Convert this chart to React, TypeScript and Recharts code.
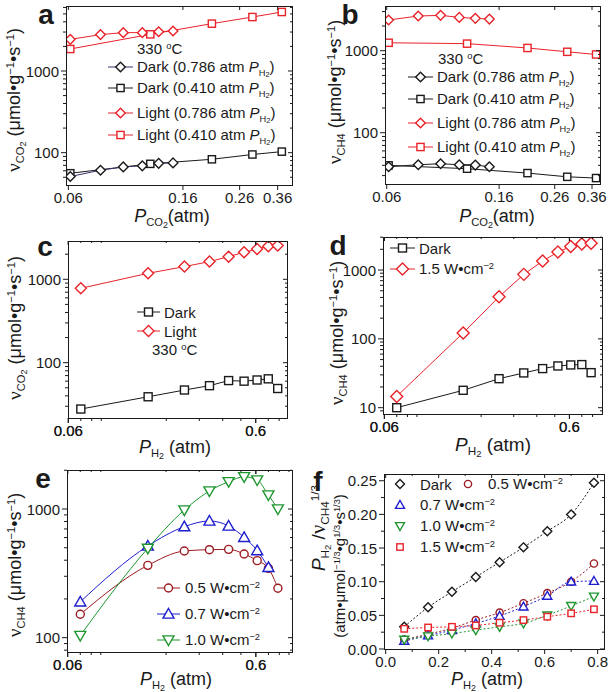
import { LineChart, Line, XAxis, YAxis } from 'recharts'

const W = 610
const H = 692
const INK = '#1a1a1a'
const RED = '#e8232a'
const NAVY = '#34346a'
const MAROON = '#9c1c22'
const BLUE = '#1d1dcf'
const GREEN = '#1f9630'
const FONT = '"Liberation Sans", Arial, Helvetica, sans-serif'
const SERIF = '"Liberation Serif", "Times New Roman", serif'

// P_CO2 sweeps (a, b): at 0.786 atm and 0.410 atm H2
const pco2Hi = [0.061, 0.079, 0.096, 0.113, 0.13, 0.147]
const pco2Lo = [0.061, 0.121, 0.205, 0.29, 0.373]

// a: CO2 consumption rate
const aDarkHi = [51, 61, 67, 69, 74, 75]
const aDarkLo = [56, 73, 83, 95, 103]
const aLightHi = [2440, 2790, 2950, 2950, 3030, 3090]
const aLightLo = [1860, 2810, 3800, 4580, 5280]

// b: CH4 formation rate
const bDarkHi = [38.5, 40.7, 41.9, 40.7, 40.3, 38.5]
const bDarkLo = [40, 36.4, 32.2, 29, 28]
const bLightHi = [2370, 2650, 2700, 2550, 2480, 2430]
const bLightLo = [1250, 1220, 1080, 970, 900]

// P_H2 sweep (c-f)
const ph2 = [0.07, 0.16, 0.25, 0.34, 0.43, 0.52, 0.61, 0.7, 0.786]
const ph2Short = [0.07, 0.16, 0.25, 0.34, 0.43, 0.52, 0.61, 0.7]

const cDark = [27.8, 39, 47, 53, 61, 60, 62, 64, 49]
const cLight = [780, 1180, 1420, 1630, 1870, 2110, 2310, 2490, 2540]

const dDark = [10, 17.9, 26.4, 32, 37, 40.4, 41.8, 42.3, 32.3]
const dLight = [14.6, 122, 409, 865, 1350, 1830, 2190, 2390, 2450]

const e05 = [152, 365, 472, 483, 486, 447, 397, 346, 242]
const e07 = [190, 516, 729, 807, 738, 602, 475, 352]
const e10 = [104, 495, 982, 1380, 1630, 1780, 1680, 1285, 1000]

const fDark = [0.033, 0.062, 0.085, 0.107, 0.129, 0.151, 0.175, 0.2, 0.247]
const f05 = [0.014, 0.022, 0.031, 0.043, 0.054, 0.068, 0.083, 0.1, 0.127]
const f07 = [0.012, 0.02, 0.028, 0.038, 0.049, 0.063, 0.079, 0.1, 0.101]
const f10 = [0.014, 0.019, 0.023, 0.028, 0.033, 0.038, 0.05, 0.064, 0.078]
const f15 = [0.03, 0.032, 0.033, 0.035, 0.039, 0.043, 0.048, 0.053, 0.059]

// tick values
const xTicksAB = [0.06, 0.16, 0.26, 0.36]
const xTicksCDE = [0.06, 0.6]
const yTicks2 = [100, 1000]
const yTicks3 = [10, 100, 1000]
const fxTicks = [0, 0.2, 0.4, 0.6, 0.8]
const fxMinor = [0.1, 0.3, 0.5, 0.7]
const fyTicks = [0, 0.05, 0.1, 0.15, 0.2, 0.25]
const fyMinor = [0.025, 0.075, 0.125, 0.175, 0.225]

const logMinor = (lo: number, hi: number) => {
  const out: number[] = []
  for (let e = Math.floor(Math.log10(lo)); e <= Math.ceil(Math.log10(hi)); e++) {
    for (let k = 2; k <= 9; k++) {
      const v = +(k * Math.pow(10, e)).toPrecision(6)
      if (v > lo && v < hi) out.push(v)
    }
  }
  return out
}

type Shape = 'diamond' | 'square' | 'circle' | 'up' | 'down'
type Series = {
  id: string
  xs: number[]
  ys: number[]
  color: string
  line?: string
  shape: Shape
  r: number
  curve?: 'linear' | 'monotone'
  dash?: string
}

function mark(shape: Shape, cx: number, cy: number, r: number, color: string) {
  const st = { fill: '#fff', stroke: color, strokeWidth: 1.4 }
  switch (shape) {
    case 'diamond':
      return <path {...st} d={`M${cx},${cy - r}L${cx + r},${cy}L${cx},${cy + r}L${cx - r},${cy}Z`} />
    case 'square':
      return <rect {...st} x={cx - r} y={cy - r} width={2 * r} height={2 * r} />
    case 'circle':
      return <circle {...st} cx={cx} cy={cy} r={r} />
    case 'up':
      return <path {...st} d={`M${cx},${cy - r}L${cx + r},${cy + r * 0.75}L${cx - r},${cy + r * 0.75}Z`} />
    default:
      return <path {...st} d={`M${cx},${cy + r}L${cx + r},${cy - r * 0.75}L${cx - r},${cy - r * 0.75}Z`} />
  }
}

const isMajor = (majors: number[], v: number) => majors.some((m) => Math.abs(m - v) < 1e-9)

type PanelProps = {
  rect: [number, number, number, number]
  xDom: [number, number]
  yDom: [number, number]
  xLog?: boolean
  yLog?: boolean
  xMajor: number[]
  xMinor?: number[]
  yMajor: number[]
  yMinor?: number[]
  xFmt: (v: number) => string
  yFmt: (v: number) => string
  series: Series[]
}

function Panel({ rect, xDom, yDom, xLog, yLog, xMajor, xMinor = [], yMajor, yMinor = [], xFmt, yFmt, series }: PanelProps) {
  const [L, T, R, B] = rect
  const pw = R - L
  const ph = B - T

  const xTick = (p: any) => {
    const v = p.payload.value
    const major = isMajor(xMajor, v)
    return (
      <g>
        <line x1={p.x} x2={p.x} y1={p.y} y2={p.y + (major ? 5 : 3)} stroke={INK} />
        <line x1={p.x} x2={p.x} y1={p.y - ph} y2={p.y - ph + (major ? 4 : 2)} stroke={INK} />
        {major && (
          <text x={p.x} y={p.y + 18} textAnchor="middle" fontSize={15} fontFamily={FONT} fill={INK}>
            {xFmt(v)}
          </text>
        )}
      </g>
    )
  }
  const yTick = (p: any) => {
    const v = p.payload.value
    const major = isMajor(yMajor, v)
    return (
      <g>
        <line x1={p.x - (major ? 5 : 3)} x2={p.x} y1={p.y} y2={p.y} stroke={INK} />
        <line x1={p.x + pw - (major ? 4 : 2)} x2={p.x + pw} y1={p.y} y2={p.y} stroke={INK} />
        {major && (
          <text x={p.x - 7} y={p.y + 5.5} textAnchor="end" fontSize={15} fontFamily={FONT} fill={INK}>
            {yFmt(v)}
          </text>
        )}
      </g>
    )
  }

  return (
    <div style={{ position: 'absolute', left: 0, top: 0, width: W, height: H }}>
      <LineChart width={W} height={H} margin={{ left: L - 1, top: T, right: W - R, bottom: H - B - 1 }}>
        <XAxis
          xAxisId="x"
          dataKey="x"
          type="number"
          scale={xLog ? 'log' : 'linear'}
          domain={xDom}
          allowDataOverflow
          ticks={[...xMajor, ...xMinor]}
          interval={0}
          height={1}
          axisLine={false}
          tickLine={false}
          tickSize={0}
          tickMargin={0}
          tick={xTick}
        />
        <YAxis
          yAxisId="y"
          type="number"
          scale={yLog ? 'log' : 'linear'}
          domain={yDom}
          allowDataOverflow
          ticks={[...yMajor, ...yMinor]}
          interval={0}
          width={1}
          axisLine={false}
          tickLine={false}
          tickSize={0}
          tickMargin={0}
          tick={yTick}
        />
        {series.map((s) => (
          <Line
            key={s.id}
            xAxisId="x"
            yAxisId="y"
            data={s.xs.map((x, i) => ({ x, y: s.ys[i] }))}
            dataKey="y"
            type={s.curve ?? 'linear'}
            stroke={s.line ?? s.color}
            strokeWidth={1}
            strokeDasharray={s.dash}
            isAnimationActive={false}
            dot={(p: any) => (
              <g key={`${s.id}-${p.index}`}>{p.cx != null && p.cy != null ? mark(s.shape, p.cx, p.cy, s.r, s.color) : null}</g>
            )}
            activeDot={false}
          />
        ))}
      </LineChart>
      <div
        style={{
          position: 'absolute',
          left: L,
          top: T,
          width: pw + 1,
          height: ph + 1,
          border: `1px solid ${INK}`,
          boxSizing: 'border-box',
          pointerEvents: 'none',
        }}
      />
    </div>
  )
}

const Sub = ({ children }: any) => (
  <span style={{ fontSize: '0.62em', position: 'relative', top: '0.38em' }}>{children}</span>
)
const Sup = ({ children }: any) => (
  <span style={{ fontSize: '0.62em', position: 'relative', top: '-0.55em' }}>{children}</span>
)
const Two = () => <span style={{ fontSize: '0.8em', position: 'relative', top: '0.2em' }}>2</span>
const PH2 = () => (
  <>
    <i>P</i>
    <Sub>
      H<Two />
    </Sub>
  </>
)
const Nu = () => <span style={{ fontFamily: SERIF, fontSize: '1.08em' }}>ν</span>
const Unit = () => (
  <>
    (μmol•g<Sup>−1</Sup>•s<Sup>−1</Sup>)
  </>
)
const Wcm = () => (
  <>
    W•cm<Sup>−2</Sup>
  </>
)

function Txt({ x, y, size = 15, rot, center, bold, children }: any) {
  const tr = `${center ? 'translate(-50%,-50%)' : 'translate(0,-50%)'}${rot ? ' rotate(-90deg)' : ''}`
  return (
    <div
      style={{
        position: 'absolute',
        left: x,
        top: y,
        transform: tr,
        whiteSpace: 'nowrap',
        fontSize: size,
        lineHeight: 1,
        fontWeight: bold ? 'bold' : 'normal',
      }}
    >
      {children}
    </div>
  )
}

function Key({ x, y, shape, r, color, line, w = 25, gap = 4, children }: any) {
  return (
    <div
      style={{
        position: 'absolute',
        left: x,
        top: y,
        transform: 'translateY(-50%)',
        display: 'flex',
        alignItems: 'center',
        whiteSpace: 'nowrap',
        fontSize: 15,
        lineHeight: 1,
      }}
    >
      <svg width={w} height={16} style={{ overflow: 'visible', marginRight: gap }}>
        {line && <line x1={0} x2={w} y1={8} y2={8} stroke={line} strokeWidth={1} />}
        {mark(shape, w / 2, 8, r, color)}
      </svg>
      <span>{children}</span>
    </div>
  )
}

const fmt2 = (v: number) => v.toFixed(2)
const fmtS = (v: number) => String(v)

export default function App() {
  return (
    <div
      style={{
        position: 'absolute',
        left: 0,
        top: 0,
        width: W,
        height: H,
        background: '#fff',
        color: INK,
        fontFamily: FONT,
        overflow: 'hidden',
      }}
    >
      {/* a */}
      <Panel
        rect={[66, 6, 292, 185]}
        xDom={[0.0588, 0.407]}
        yDom={[40.2, 6250]}
        xLog
        yLog
        xMajor={xTicksAB}
        yMajor={yTicks2}
        yMinor={logMinor(40.2, 6250)}
        xFmt={fmt2}
        yFmt={fmtS}
        series={[
          { id: 'aLL', xs: pco2Lo, ys: aLightLo, color: RED, shape: 'square', r: 3.6 },
          { id: 'aLH', xs: pco2Hi, ys: aLightHi, color: RED, shape: 'diamond', r: 4.8 },
          { id: 'aDL', xs: pco2Lo, ys: aDarkLo, color: INK, shape: 'square', r: 3.6 },
          { id: 'aDH', xs: pco2Hi, ys: aDarkHi, color: INK, line: NAVY, shape: 'diamond', r: 4.8 },
        ]}
      />
      {/* b */}
      <Panel
        rect={[385, 6, 600, 184]}
        xDom={[0.0591, 0.386]}
        yDom={[23.7, 3510]}
        xLog
        yLog
        xMajor={xTicksAB}
        yMajor={yTicks2}
        yMinor={logMinor(23.7, 3510)}
        xFmt={fmt2}
        yFmt={fmtS}
        series={[
          { id: 'bLL', xs: pco2Lo, ys: bLightLo, color: RED, shape: 'square', r: 3.6 },
          { id: 'bLH', xs: pco2Hi, ys: bLightHi, color: RED, shape: 'diamond', r: 4.8 },
          { id: 'bDL', xs: pco2Lo, ys: bDarkLo, color: INK, shape: 'square', r: 3.6 },
          { id: 'bDH', xs: pco2Hi, ys: bDarkHi, color: INK, shape: 'diamond', r: 4.8 },
        ]}
      />
      {/* c */}
      <Panel
        rect={[68, 241, 287, 418]}
        xDom={[0.0598, 0.881]}
        yDom={[21.7, 2880]}
        xLog
        yLog
        xMajor={xTicksCDE}
        xMinor={logMinor(0.0598, 0.881)}
        yMajor={yTicks2}
        yMinor={logMinor(21.7, 2880)}
        xFmt={fmtS}
        yFmt={fmtS}
        series={[
          { id: 'cD', xs: ph2, ys: cDark, color: INK, shape: 'square', r: 4 },
          { id: 'cL', xs: ph2, ys: cLight, color: RED, shape: 'diamond', r: 5.5 },
        ]}
      />
      {/* d */}
      <Panel
        rect={[383, 237, 602, 414]}
        xDom={[0.059, 0.9]}
        yDom={[8.1, 3020]}
        xLog
        yLog
        xMajor={xTicksCDE}
        xMinor={logMinor(0.059, 0.9)}
        yMajor={yTicks3}
        yMinor={logMinor(8.1, 3020)}
        xFmt={fmtS}
        yFmt={fmtS}
        series={[
          { id: 'dD', xs: ph2, ys: dDark, color: INK, shape: 'square', r: 4 },
          { id: 'dL', xs: ph2, ys: dLight, color: RED, shape: 'diamond', r: 6 },
        ]}
      />
      {/* e */}
      <Panel
        rect={[67, 470, 292, 652]}
        xDom={[0.0595, 0.934]}
        yDom={[77.4, 2010]}
        xLog
        yLog
        xMajor={xTicksCDE}
        xMinor={logMinor(0.0595, 0.934)}
        yMajor={yTicks2}
        yMinor={logMinor(77.4, 2010)}
        xFmt={fmtS}
        yFmt={fmtS}
        series={[
          { id: 'e05', xs: ph2, ys: e05, color: MAROON, shape: 'circle', r: 4, curve: 'monotone' },
          { id: 'e07', xs: ph2Short, ys: e07, color: BLUE, shape: 'up', r: 5.5, curve: 'monotone' },
          { id: 'e10', xs: ph2, ys: e10, color: GREEN, shape: 'down', r: 5.5, curve: 'monotone' },
        ]}
      />
      {/* f */}
      <Panel
        rect={[384, 474, 604, 649]}
        xDom={[-0.0064, 0.824]}
        yDom={[0, 0.26]}
        xMajor={fxTicks}
        xMinor={fxMinor}
        yMajor={fyTicks}
        yMinor={fyMinor}
        xFmt={(v) => v.toFixed(1)}
        yFmt={fmt2}
        series={[
          { id: 'fD', xs: ph2, ys: fDark, color: INK, shape: 'diamond', r: 4.5, curve: 'monotone', dash: '2 2' },
          { id: 'f05', xs: ph2, ys: f05, color: MAROON, shape: 'circle', r: 3.6, curve: 'monotone', dash: '2 2' },
          { id: 'f07', xs: ph2, ys: f07, color: BLUE, shape: 'up', r: 4.5, curve: 'monotone', dash: '2 2' },
          { id: 'f10', xs: ph2, ys: f10, color: GREEN, shape: 'down', r: 4.5, curve: 'monotone', dash: '2 2' },
          { id: 'f15', xs: ph2, ys: f15, color: RED, shape: 'square', r: 3.2, curve: 'monotone', dash: '2 2' },
        ]}
      />

      {/* panel letters */}
      <Txt x={46} y={15} size={28} bold center>a</Txt>
      <Txt x={350} y={15} size={28} bold center>b</Txt>
      <Txt x={45} y={247} size={28} bold center>c</Txt>
      <Txt x={338} y={246} size={28} bold center>d</Txt>
      <Txt x={43} y={479} size={28} bold center>e</Txt>
      <Txt x={318} y={482} size={28} bold center>f</Txt>

      {/* axis titles */}
      <Txt x={172} y={216} size={18} center>
        <i>P</i>
        <Sub>
          CO<Two />
        </Sub>
        (atm)
      </Txt>
      <Txt x={14} y={100} size={18} center rot>
        <Nu />
        <Sub>
          CO<Two />
        </Sub>{' '}
        <Unit />
      </Txt>
      <Txt x={497} y={216} size={18} center>
        <i>P</i>
        <Sub>
          CO<Two />
        </Sub>
        (atm)
      </Txt>
      <Txt x={335} y={92} size={18} center rot>
        <Nu />
        <Sub>CH4</Sub> <Unit />
      </Txt>
      <Txt x={175} y={447} size={18} center>
        <PH2 /> (atm)
      </Txt>
      <Txt x={15} y={328} size={18} center rot>
        <Nu />
        <Sub>
          CO<Two />
        </Sub>{' '}
        <Unit />
      </Txt>
      <Txt x={493} y={444} size={19} center>
        <PH2 /> (atm)
      </Txt>
      <Txt x={337} y={333} size={18} center rot>
        <Nu />
        <Sub>CH4</Sub> <Unit />
      </Txt>
      <Txt x={176} y={679} size={18} center>
        <PH2 /> (atm)
      </Txt>
      <Txt x={15} y={565} size={18} center rot>
        <Nu />
        <Sub>CH4</Sub> <Unit />
      </Txt>
      <Txt x={487} y={679} size={18} center>
        <PH2 /> (atm)
      </Txt>
      <Txt x={318} y={528} size={19} center rot>
        <PH2 /> /<Nu />
        <Sub>CH4</Sub>
        <Sup>1/3</Sup>
      </Txt>
      <Txt x={340} y={566} size={15} center rot>
        (atm•μmol<Sup>−1/3</Sup>•g<Sup>1/3</Sup>•s<Sup>1/3</Sup>)
      </Txt>

      {/* legends a */}
      <Txt x={137} y={49}>
        330 <Sup>o</Sup>C
      </Txt>
      <Key x={108} y={67} shape="diamond" r={4.8} color={INK} line={NAVY}>
        Dark (0.786 atm <PH2 />)
      </Key>
      <Key x={108} y={88} shape="square" r={3.6} color={INK} line={INK}>
        Dark (0.410 atm <PH2 />)
      </Key>
      <Key x={108} y={113} shape="diamond" r={4.8} color={RED} line={RED}>
        Light (0.786 atm <PH2 />)
      </Key>
      <Key x={108} y={135} shape="square" r={3.6} color={RED} line={RED}>
        Light (0.410 atm <PH2 />)
      </Key>

      {/* legends b */}
      <Txt x={438} y={59}>
        330 <Sup>o</Sup>C
      </Txt>
      <Key x={408} y={77} shape="diamond" r={4.8} color={INK} line={INK}>
        Dark (0.786 atm <PH2 />)
      </Key>
      <Key x={408} y={99} shape="square" r={3.6} color={INK} line={INK}>
        Dark (0.410 atm <PH2 />)
      </Key>
      <Key x={408} y={123} shape="diamond" r={4.8} color={RED} line={RED}>
        Light (0.786 atm <PH2 />)
      </Key>
      <Key x={408} y={147} shape="square" r={3.6} color={RED} line={RED}>
        Light (0.410 atm <PH2 />)
      </Key>

      {/* legends c */}
      <Key x={137} y={312} w={23} shape="square" r={4} color={INK} line={INK}>
        Dark
      </Key>
      <Key x={137} y={331} w={23} shape="diamond" r={5.5} color={RED} line={RED}>
        Light
      </Key>
      <Txt x={152} y={350}>
        330 <Sup>o</Sup>C
      </Txt>

      {/* legends d */}
      <Key x={390} y={248} shape="square" r={4} color={INK} line={INK}>
        Dark
      </Key>
      <Key x={390} y={269} shape="diamond" r={6} color={RED} line={RED}>
        1.5 <Wcm />
      </Key>

      {/* legends e */}
      <Key x={157} y={588} w={23} gap={5} shape="circle" r={4} color={MAROON} line={MAROON}>
        0.5 <Wcm />
      </Key>
      <Key x={157} y={614} w={23} gap={5} shape="up" r={5.5} color={BLUE} line={BLUE}>
        0.7 <Wcm />
      </Key>
      <Key x={157} y={640} w={23} gap={5} shape="down" r={5.5} color={GREEN} line={GREEN}>
        1.0 <Wcm />
      </Key>

      {/* legends f */}
      <Key x={395} y={484} w={10} gap={15} shape="diamond" r={4.5} color={INK}>
        Dark
      </Key>
      <Key x={463} y={484} w={10} gap={15} shape="circle" r={3.6} color={MAROON}>
        0.5 <Wcm />
      </Key>
      <Key x={395} y={505} w={10} gap={15} shape="up" r={4.5} color={BLUE}>
        0.7 <Wcm />
      </Key>
      <Key x={395} y={526} w={10} gap={15} shape="down" r={4.5} color={GREEN}>
        1.0 <Wcm />
      </Key>
      <Key x={395} y={547} w={10} gap={15} shape="square" r={3.2} color={RED}>
        1.5 <Wcm />
      </Key>
    </div>
  )
}
